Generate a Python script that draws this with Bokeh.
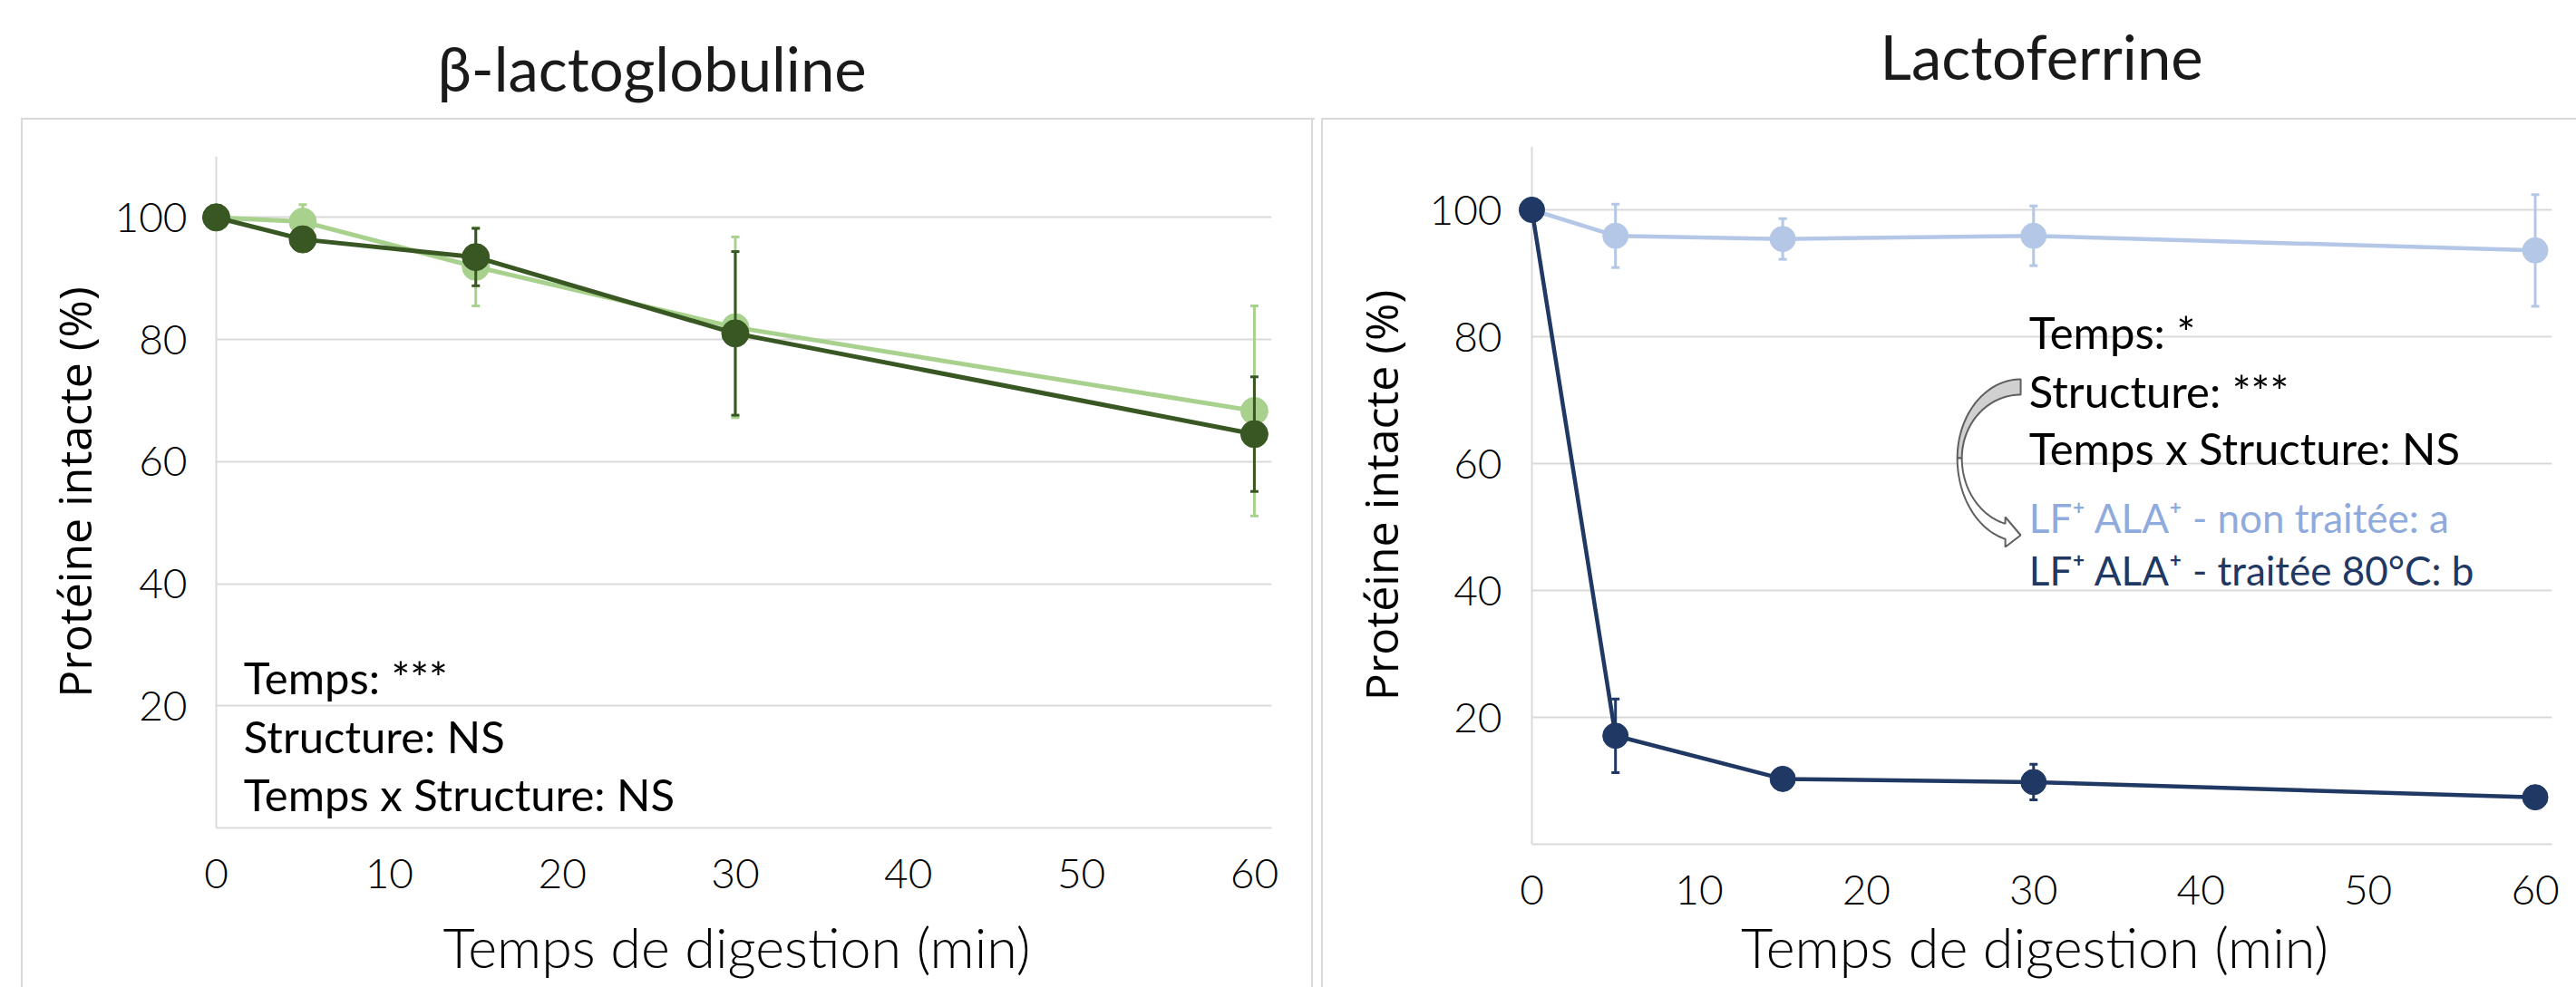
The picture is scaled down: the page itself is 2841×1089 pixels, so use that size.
import math
import numpy as np
from bokeh.plotting import figure
from bokeh.models import (Range1d, FixedTicker, Label, BoxAnnotation, Span, ColumnDataSource,
                          Spacer, Title)
from bokeh.embed import file_html
from bokeh.resources import INLINE

# ---------------- data ----------------
time_min = [0, 5, 15, 30, 60]
blg_native = [100.0, 99.3, 91.9, 82.0, 68.3]
blg_native_sd = [0.0, 2.8, 6.4, 14.8, 17.2]
blg_heated = [100.0, 96.4, 93.5, 81.0, 64.5]
blg_heated_sd = [0.0, 1.2, 4.7, 13.4, 9.4]
lf_native = [100.0, 95.9, 95.4, 95.9, 93.6]
lf_native_sd = [0.0, 5.0, 3.2, 4.7, 8.8]
lf_heated = [100.0, 17.1, 10.3, 9.8, 7.4]
lf_heated_sd = [0.0, 5.8, 1.0, 2.8, 1.0]
x_ticks = [0, 10, 20, 30, 40, 50, 60]
y_ticks = [20, 40, 60, 80, 100]

titles = ["β-lactoglobuline", "Lactoferrine"]
x_label = "Temps de digestion (min)"
y_label = "Protéine intacte (%)"
blg_stats = ["Temps: ***", "Structure: NS", "Temps x Structure: NS"]
lf_stats = ["Temps: *", "Structure: ***", "Temps x Structure: NS"]
lf_groups = ["LF\u207a ALA\u207a - non traitée: a", "LF\u207a ALA\u207a - traitée 80°C: b"]

# ---------------- style ----------------
X_MAX = 61
Y_MAX = 110
PAD_PX = 16
GRID = "#d9d9d9"
TICK_FONT = "Lato Light"
TEXT_FONT = "Lato"
YT_FONT = "Open Sans"
H = 1089

LGREEN, DGREEN = "#a9d18e", "#385723"
LBLUE, DBLUE = "#b4c7e7", "#1f3864"


def box_css(lines):
    grad = ", ".join(["linear-gradient(#d9d9d9, #d9d9d9)"] * len(lines))
    return {
        "background-image": grad,
        "background-size": ", ".join(f"{w}px {h}px" for (_, _, w, h) in lines),
        "background-position": ", ".join(f"{x}px {y}px" for (x, y, _, _) in lines),
        "background-repeat": "no-repeat",
    }


def make_panel(left_px, W, bl, br, bt, bb, title, title_offset, title_lift,
               ylab_standoff, ytitle_standoff, xtitle_standoff, ybounds_lo):
    frame_w = W - bl - br
    sx = (frame_w - PAD_PX) / X_MAX
    pad = PAD_PX / sx
    p = figure(width=W, height=H,
               min_border_left=bl, min_border_right=br,
               min_border_top=bt, min_border_bottom=bb,
               x_range=Range1d(-pad, X_MAX), y_range=Range1d(0, Y_MAX),
               output_backend="svg", toolbar_location=None, tools="")
    p.styles = {"position": "absolute", "left": f"{left_px}px", "top": "0px"}
    p.outline_line_color = None
    p.background_fill_color = "white"
    p.border_fill_color = None
    # titles: an invisible spacer title next to the frame, then the real title
    p.title.text = ""
    p.title.text_font_size = "1px"
    p.title.standoff = 0
    p.add_layout(Title(text="\u00a0", text_font_size="1px", standoff=title_lift), "above")
    p.add_layout(Title(text=title, text_font=TEXT_FONT, text_font_size="67px",
                       text_font_style="normal", text_color="#1a1a1a", align="left",
                       offset=title_offset, standoff=0, vertical_align="bottom"), "above")
    # grid / axes
    p.xgrid.grid_line_color = None
    p.yaxis.ticker = FixedTicker(ticks=y_ticks)
    p.xaxis.ticker = FixedTicker(ticks=x_ticks)
    p.ygrid.grid_line_color = GRID
    p.ygrid.grid_line_width = 2
    for ax in (p.xaxis[0], p.yaxis[0]):
        ax.major_tick_line_color = None
        ax.minor_tick_line_color = None
        ax.major_tick_out = 0
        ax.major_tick_in = 0
        ax.minor_tick_out = 0
        ax.minor_tick_in = 0
        ax.major_label_text_font = TICK_FONT
        ax.major_label_text_font_size = "46px"
        ax.major_label_text_color = "#000000"
        ax.axis_label_text_font_style = "normal"
        ax.axis_label_text_color = "#000000"
    p.yaxis.axis_line_color = None
    p.yaxis.bounds = (ybounds_lo, Y_MAX)
    p.yaxis.major_label_standoff = ylab_standoff
    p.yaxis.axis_label = y_label
    p.yaxis.axis_label_text_font = YT_FONT
    p.yaxis.axis_label_text_font_size = "50px"
    p.yaxis.axis_label_standoff = ytitle_standoff
    p.xaxis.axis_line_color = GRID
    p.xaxis.axis_line_width = 2
    p.xaxis.bounds = (0, X_MAX)
    p.xaxis.major_label_standoff = 34
    p.xaxis.axis_label = x_label
    p.xaxis.axis_label_text_font = TICK_FONT
    p.xaxis.axis_label_text_font_size = "61px"
    p.xaxis.axis_label_standoff = xtitle_standoff
    # mask grid stubs left of x=0, then vertical axis line at x=0
    p.add_layout(BoxAnnotation(left=-pad, right=0, fill_color="white", fill_alpha=1.0,
                               line_color=None, level="underlay"))
    p.add_layout(Span(location=0, dimension="height", line_color=GRID, line_width=2,
                      level="underlay"))
    return p, sx, (H - bt - bb) / Y_MAX


def add_series(p, y, sd, color, size, lw, ew):
    src = ColumnDataSource(dict(x=time_min, y=y,
                                lo=[v - e for v, e in zip(y, sd)],
                                hi=[v + e for v, e in zip(y, sd)]))
    p.segment(x0="x", y0="lo", x1="x", y1="hi", source=src, line_color=color, line_width=ew)
    p.scatter(x="x", y="hi", marker="dash", size=9, line_color=color, line_width=ew, source=src)
    p.scatter(x="x", y="lo", marker="dash", size=9, line_color=color, line_width=ew, source=src)
    p.line(x="x", y="y", source=src, line_color=color, line_width=lw, line_join="round")
    p.scatter(x="x", y="y", source=src, marker="circle", size=size,
              fill_color=color, line_color=color)


def lab(p, x, y, text, size, color="#000000", font=TEXT_FONT):
    p.add_layout(Label(x=x, y=y, text=text, text_font=font, text_font_size=f"{size}px",
                       text_color=color, text_align="left", text_baseline="alphabetic"))


# ---------------- background boxes ----------------
bg = Spacer(width=2841, height=H,
            styles=dict(box_css([(23, 130, 1427, 2), (23, 130, 2, 960), (1446, 130, 2, 960),
                                 (1457, 130, 1384, 2), (1457, 130, 2, 960)]),
                        **{"position": "absolute", "left": "0px", "top": "0px"}))

# ---------------- left panel ----------------
pl, _, _ = make_panel(45, 1406, 177, 49, 172, 176, titles[0], 260, 55, 16, 7, 25, 5.12)
add_series(pl, blg_native, blg_native_sd, LGREEN, 30, 5, 3)
add_series(pl, blg_heated, blg_heated_sd, DGREEN, 30, 5, 3)
for txt, yy in zip(blg_stats, [24.65, 15.0, 5.6]):
    lab(pl, 1.59, yy, txt, 49)

# ---------------- right panel ----------------
pr, sxr, syr = make_panel(1486, 1355, 185, 27, 161, 158, titles[1], 400, 57, 17, 16, 7, 2.74)
add_series(pr, lf_native, lf_native_sd, LBLUE, 28, 4.5, 3)
add_series(pr, lf_heated, lf_heated_sd, DBLUE, 28, 4.5, 3)
for txt, yy in zip(lf_stats, [80.8, 71.53, 62.47]):
    lab(pr, 29.73, yy, txt, 49)
for txt, yy, col in zip(lf_groups, [51.53, 43.28], ["#8faadc", DBLUE]):
    lab(pr, 29.73, yy, txt, 44, color=col)

# curved arrow (decoration), built in pixel offsets and converted to data units
cx, cy = 29.23, 60.86


def arc(a, b, t0, t1, n=40):
    t = np.radians(np.linspace(t0, t1, n))
    return list(cx + a * np.cos(t) / sxr), list(cy + b * np.sin(t) / syr)


ox, oy = arc(70, 87, 90, 180)
ix, iy = arc(65, 70, 180, 90)
pr.patch(ox + ix, oy + iy, fill_color="#d0d0d0", line_color="#5f5f5f", line_width=2)

lx, ly = arc(70, 92, 180, 256)
hx = [cx - 17 / sxr, cx, cx - 17 / sxr]
hy = [cy - 98 / syr, cy - 85 / syr, cy - 65 / syr]
jx, jy = arc(65, 75, 254.8, 180)
pr.patch(lx + hx + jx, ly + hy + jy, fill_color="white", line_color="#5f5f5f", line_width=2)

open("out.html", "w").write(file_html([bg, pl, pr], INLINE))
